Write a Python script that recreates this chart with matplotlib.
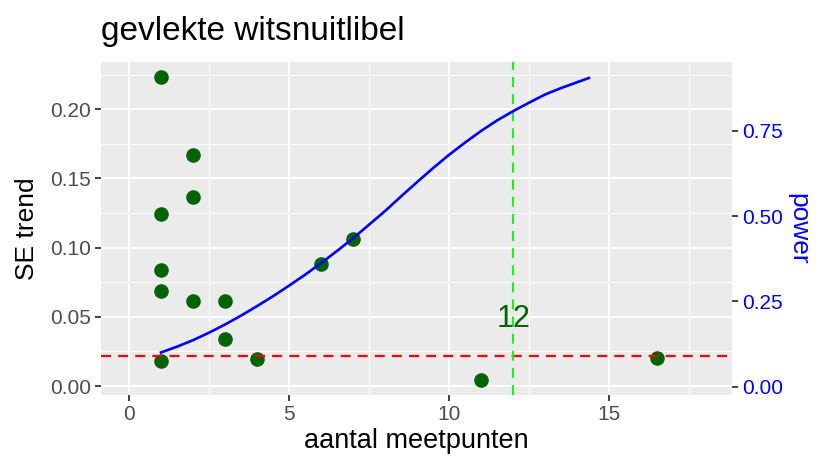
import matplotlib
matplotlib.use("Agg")
import matplotlib.pyplot as plt
from matplotlib.ticker import MultipleLocator, FixedLocator

plt.rcParams['font.family'] = ['Liberation Sans', 'DejaVu Sans']

title = "gevlekte witsnuitlibel"
xlabel = "aantal meetpunten"
ylabel = "SE trend"
y2label = "power"

# scatter points: number of measurements vs SE of trend
n_points = [1, 2, 2, 1, 1, 1, 2, 3, 3, 1, 4, 6, 7, 11, 16.5]
se_trend = [0.223, 0.167, 0.1366, 0.124, 0.0838, 0.0687, 0.0614, 0.0614,
            0.034, 0.018, 0.0195, 0.088, 0.106, 0.0043, 0.020]

# power curve
curve_n = [1, 1.5, 2, 2.5, 3, 3.5, 4, 4.5, 5, 5.5, 6, 6.5, 7, 7.5, 8, 8.5,
           9, 9.5, 10, 10.5, 11, 11.5, 12, 12.5, 13, 13.5, 14, 14.37]
curve_power = [0.100, 0.117, 0.136, 0.158, 0.182, 0.208, 0.236, 0.265,
               0.296, 0.328, 0.362, 0.398, 0.435, 0.475, 0.515, 0.558,
               0.600, 0.641, 0.680, 0.716, 0.750, 0.781, 0.808, 0.833,
               0.857, 0.876, 0.893, 0.9055]

se_threshold = 0.022
n_required = 12
n_required_label = "12"

xticks = [0, 5, 10, 15]
yticks = [0.00, 0.05, 0.10, 0.15, 0.20]
y2ticks = [0.00, 0.25, 0.50, 0.75]

fig = plt.figure(figsize=(8.19, 4.59), dpi=100)
ax = fig.add_axes([101/819, 1-395/459, (732-101)/819, (395-62)/459])
ax.set_facecolor('#EBEBEB')
for s in ax.spines.values():
    s.set_visible(False)

ax.set_xlim(-0.875, 18.84)
ax.set_ylim(-0.0065, 0.2342)
ax.xaxis.set_major_locator(FixedLocator(xticks))
ax.yaxis.set_major_locator(FixedLocator(yticks))
ax.xaxis.set_minor_locator(MultipleLocator(2.5))
ax.yaxis.set_minor_locator(MultipleLocator(0.025))
ax.set_yticklabels([f"{v:.2f}" for v in yticks])
ax.grid(which='major', color='white', lw=1.4)
ax.grid(which='minor', color='white', lw=0.7)
ax.set_axisbelow(True)
ax.tick_params(which='minor', length=0)
ax.tick_params(which='major', length=4, width=1.3, color='#333333',
               labelcolor='#4D4D4D', labelsize=15, pad=3)

ax.scatter(n_points, se_trend, s=110, color='#006400', zorder=3, linewidths=0)
ax.axhline(se_threshold, color='red', lw=1.6, ls=(0, (4.5, 3.2)), zorder=4)
ax.axvline(n_required, color='#22EE22', lw=1.6, ls=(0, (4.5, 3.2)), zorder=4)
ax.text(n_required, 0.0484, n_required_label, color='#006400', fontsize=22,
        ha='center', va='center', zorder=5)

ax.set_xlabel(xlabel, fontsize=19.5, labelpad=3)
ax.set_ylabel(ylabel, fontsize=19, labelpad=8)
ax.set_title(title, fontsize=24, loc='left', pad=16)

ax2 = ax.twinx()
for s in ax2.spines.values():
    s.set_visible(False)
ax2.set_ylim(-0.0249, 0.9524)
ax2.yaxis.set_major_locator(FixedLocator(y2ticks))
ax2.set_yticklabels([f"{v:.2f}" for v in y2ticks])
ax2.tick_params(length=4, width=1.3, color='#333333', labelcolor='blue',
                labelsize=15, pad=3)
ax2.plot(curve_n, curve_power, color='blue', lw=1.9, zorder=5)
ax2.set_ylabel(y2label, color='blue', fontsize=19, rotation=-90, labelpad=20)

fig.savefig("out.png", dpi=100)
